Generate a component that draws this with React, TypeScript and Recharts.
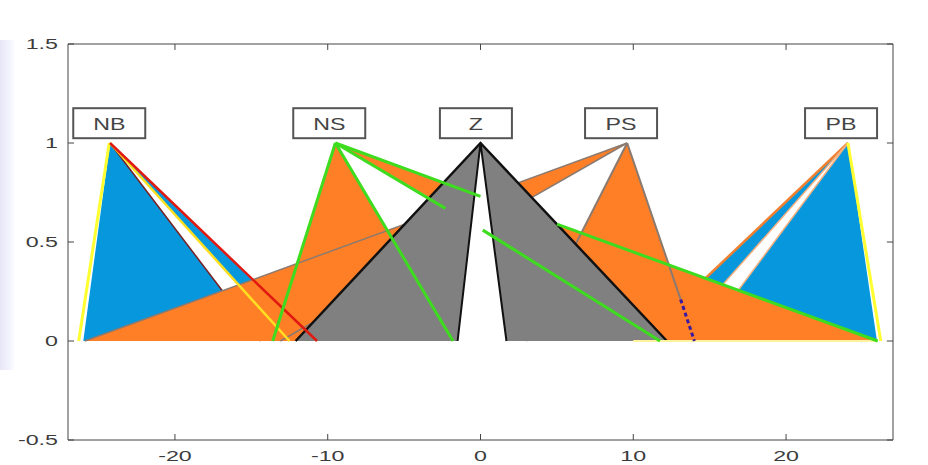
import { Area, ComposedChart, Line, ReferenceLine, Scatter, XAxis, YAxis } from 'recharts';

const xTicks = [-20, -10, 0, 10, 20];
const yTicks = [-0.5, 0, 0.5, 1, 1.5];
const xDomain = [-27, 27];
const yDomain = [-0.5, 1.5];

const termNames = ['NB', 'NS', 'Z', 'PS', 'PB'];
const termLabelX = [-24.3, -9.9, -0.3, 9.2, 23.6];
const termLabelY = 1.1;

// filled triangles, vertices as [x, y]
const nbBlue = [[-26.0, 0], [-24.25, 1], [-10.7, 0]];
const pbBlue = [[10.4, 0], [24.05, 1], [25.95, 0]];
const nbGap = [[-14.4, 0], [-24.25, 1], [-12.5, 0]];
const pbGap = [[12.6, 0], [24.05, 1], [14.4, 0]];
const leftWide = [[-25.9, 0], [9.6, 1], [-13.1, 0]];
const rightWide = [[12.9, 0], [-9.5, 1], [26.0, 0]];
const nsTri = [[-13.6, 0], [-9.5, 1], [-1.8, 0]];
const psTri = [[3.0, 0], [9.6, 1], [14.0, 0]];
const zTri = [[-12.1, 0], [0, 1], [12.2, 0]];
const zGap = [[-1.5, 0], [0, 1], [1.7, 0]];

// edge lines
const nbLeftEdge = [[-26.3, 0], [-24.3, 1]];
const pbRightEdge = [[24.05, 1], [26.2, 0]];
const nbRedEdge = [[-24.25, 1], [-10.7, 0]];
const nbYellowEdge = [[-24.25, 1], [-12.5, 0]];
const nbDarkEdge = [[-24.25, 1], [-14.4, 0]];
const pbOuterEdge = [[24.05, 1], [10.4, 0]];
const pbGapEdgeA = [[24.05, 1], [12.6, 0]];
const pbGapEdgeB = [[24.05, 1], [14.4, 0]];
const wideGreyEdge = [[-25.9, 0], [9.6, 1]];
const wideLowEdge = [[9.6, 1], [-13.1, 0]];
const psLeftEdge = [[9.6, 1], [3.0, 0]];
const psRightEdge = [[9.6, 1], [13.1, 0.21]];
const psDash = [[13.1, 0.21], [14.0, 0]];
const zOuter = [[-12.1, 0], [0, 1], [12.2, 0]];
const zInner = [[-1.5, 0], [0, 1], [1.7, 0]];
const nsLeftEdge = [[-13.6, 0], [-9.5, 1]];
const nsRightEdge = [[-9.5, 1], [-1.8, 0]];
const nsLongA = [[-9.5, 1], [0, 0.73]];
const nsLongB = [[5.0, 0.59], [26.0, 0]];
const nsMidA = [[-9.5, 1], [-2.3, 0.67]];
const nsMidB = [[0.15, 0.56], [11.75, 0]];
const baseGlow = [[10, 0], [26, 0]];

const BLUE = '#0797dc';
const ORANGE = '#ff7f27';
const GREY = '#808080';
const GREEN = '#3ddc1f';
const AXIS = '#444';
const FONT = 'Liberation Sans, Arial, sans-serif';

// range-area points of a triangle: [low, high] of the vertical slice at each vertex
function toRange(tri: number[][]) {
  const [a, m, c] = [...tri].sort((p, q) => p[0] - q[0]);
  const t = (m[0] - a[0]) / (c[0] - a[0]);
  const yEdge = a[1] + t * (c[1] - a[1]);
  return [
    { x: a[0], r: [a[1], a[1]] },
    { x: m[0], r: [Math.min(m[1], yEdge), Math.max(m[1], yEdge)] },
    { x: c[0], r: [c[1], c[1]] },
  ];
}

const toPts = (pts: number[][]) => pts.map(([x, y]) => ({ x, y }));

const labelPts = termNames.map((name, i) => ({ x: termLabelX[i], y: termLabelY, name }));

// the source picture is stretched sideways, so text is widened to match
const LabelBox = (props: any) => {
  const { cx, cy, payload } = props;
  return (
    <g>
      <rect x={cx - 36} y={cy - 15} width={72} height={30} fill="#fff" stroke="#555" strokeWidth={2} />
      <g transform={`translate(${cx},${cy + 1})`}>
        <text
          transform="scale(1.45,1)"
          textAnchor="middle"
          dominantBaseline="central"
          fontSize={16}
          fill="#444"
          fontFamily={FONT}
        >
          {payload.name}
        </text>
      </g>
    </g>
  );
};

const XTick = (props: any) => {
  const { x, y, payload } = props;
  return (
    <g transform={`translate(${x},${y})`}>
      <text transform="scale(1.55,1)" textAnchor="middle" dy="0.71em" fontSize={15} fill="#3c3c3c" fontFamily={FONT}>
        {payload.value}
      </text>
    </g>
  );
};

const YTick = (props: any) => {
  const { x, y, payload } = props;
  return (
    <g transform={`translate(${x},${y})`}>
      <text transform="scale(1.55,1)" textAnchor="end" dy="0.36em" fontSize={15} fill="#3c3c3c" fontFamily={FONT}>
        {payload.value}
      </text>
    </g>
  );
};

const fillTri = (key: string, tri: number[][], color: string) => (
  <Area
    key={key}
    type="linear"
    data={toRange(tri)}
    dataKey="r"
    fill={color}
    fillOpacity={1}
    stroke="none"
    dot={false}
    activeDot={false}
    isAnimationActive={false}
  />
);

// edges that sit below later fills are drawn as unfilled areas so they keep the area stacking order
const underEdge = (key: string, pts: number[][], color: string, width: number) => (
  <Area
    key={key}
    type="linear"
    data={toPts(pts)}
    dataKey="y"
    baseValue={0}
    fill="none"
    stroke={color}
    strokeWidth={width}
    dot={false}
    activeDot={false}
    isAnimationActive={false}
  />
);

const edge = (key: string, pts: number[][], color: string, width: number, dash?: string) => (
  <Line
    key={key}
    type="linear"
    data={toPts(pts)}
    dataKey="y"
    stroke={color}
    strokeWidth={width}
    strokeDasharray={dash}
    dot={false}
    activeDot={false}
    isAnimationActive={false}
  />
);

export default function App() {
  return (
    <div style={{ position: 'absolute', left: 0, top: 0, width: 928, height: 465, background: '#fff' }}>
      <div
        style={{
          position: 'absolute',
          left: 0,
          top: 40,
          width: 14,
          height: 330,
          background: 'linear-gradient(to right, #e6e6f7, #fafaff)',
        }}
      />
      <ComposedChart
        width={928}
        height={465}
        margin={{ top: 44, right: 35, bottom: 0, left: 0 }}
        style={{ position: 'relative' }}
      >
        <XAxis
          dataKey="x"
          type="number"
          domain={xDomain}
          ticks={xTicks}
          allowDataOverflow
          height={25}
          tickSize={-6}
          tickMargin={16}
          tick={<XTick />}
          stroke={AXIS}
        />
        <YAxis
          type="number"
          domain={yDomain}
          ticks={yTicks}
          allowDataOverflow
          width={68}
          tickSize={-6}
          tickMargin={16}
          tick={<YTick />}
          stroke={AXIS}
        />

        {fillTri('nbBlue', nbBlue, BLUE)}
        {fillTri('pbBlue', pbBlue, BLUE)}
        {fillTri('nbGap', nbGap, '#fff')}
        {fillTri('pbGap', pbGap, '#fff')}
        {underEdge('nbDark', nbDarkEdge, '#7a1f1f', 1.5)}
        {underEdge('pbOuter', pbOuterEdge, '#f08030', 2.5)}
        {underEdge('pbGapA', pbGapEdgeA, '#f4b080', 1.5)}
        {underEdge('pbGapB', pbGapEdgeB, '#f4b080', 1.5)}

        {fillTri('leftWide', leftWide, ORANGE)}
        {fillTri('rightWide', rightWide, ORANGE)}
        {fillTri('nsTri', nsTri, ORANGE)}
        {fillTri('psTri', psTri, ORANGE)}
        {underEdge('wideGrey', wideGreyEdge, '#8a7a70', 1.5)}
        {underEdge('wideLow', wideLowEdge, '#8a7a70', 1.5)}
        {underEdge('psLeft', psLeftEdge, '#8a7a70', 2)}
        {underEdge('psRight', psRightEdge, '#8a7a70', 2)}

        {fillTri('zTri', zTri, GREY)}
        {fillTri('zGap', zGap, '#fff')}

        {edge('zOuter', zOuter, '#111', 2.5)}
        {edge('zInner', zInner, '#111', 2)}
        {edge('baseGlow', baseGlow, '#fff3a0', 2)}
        {edge('nbLeft', nbLeftEdge, '#ffff30', 3)}
        {edge('pbRight', pbRightEdge, '#ffff30', 3)}
        {edge('nbYellow', nbYellowEdge, '#ffe020', 2.5)}
        {edge('nbRed', nbRedEdge, '#e01a10', 2.5)}
        {edge('psDash', psDash, '#3a1aa0', 3, '4 3')}
        {edge('nsLeft', nsLeftEdge, GREEN, 3)}
        {edge('nsRight', nsRightEdge, GREEN, 3)}
        {edge('nsLongA', nsLongA, GREEN, 3)}
        {edge('nsLongB', nsLongB, GREEN, 3)}
        {edge('nsMidA', nsMidA, GREEN, 3)}
        {edge('nsMidB', nsMidB, GREEN, 3)}

        {/* box frame: top and right sides with inward ticks */}
        <ReferenceLine y={yDomain[1]} stroke={AXIS} ifOverflow="visible" />
        <ReferenceLine x={xDomain[1]} stroke={AXIS} ifOverflow="visible" />
        {xTicks.map((t) => (
          <ReferenceLine
            key={`tt${t}`}
            segment={[{ x: t, y: yDomain[1] }, { x: t, y: yDomain[1] - 0.03 }]}
            stroke={AXIS}
            ifOverflow="visible"
          />
        ))}
        {yTicks.map((t) => (
          <ReferenceLine
            key={`rt${t}`}
            segment={[{ x: xDomain[1], y: t }, { x: xDomain[1] - 0.4, y: t }]}
            stroke={AXIS}
            ifOverflow="visible"
          />
        ))}

        <Scatter data={labelPts} dataKey="y" shape={LabelBox} isAnimationActive={false} />
      </ComposedChart>
    </div>
  );
}
